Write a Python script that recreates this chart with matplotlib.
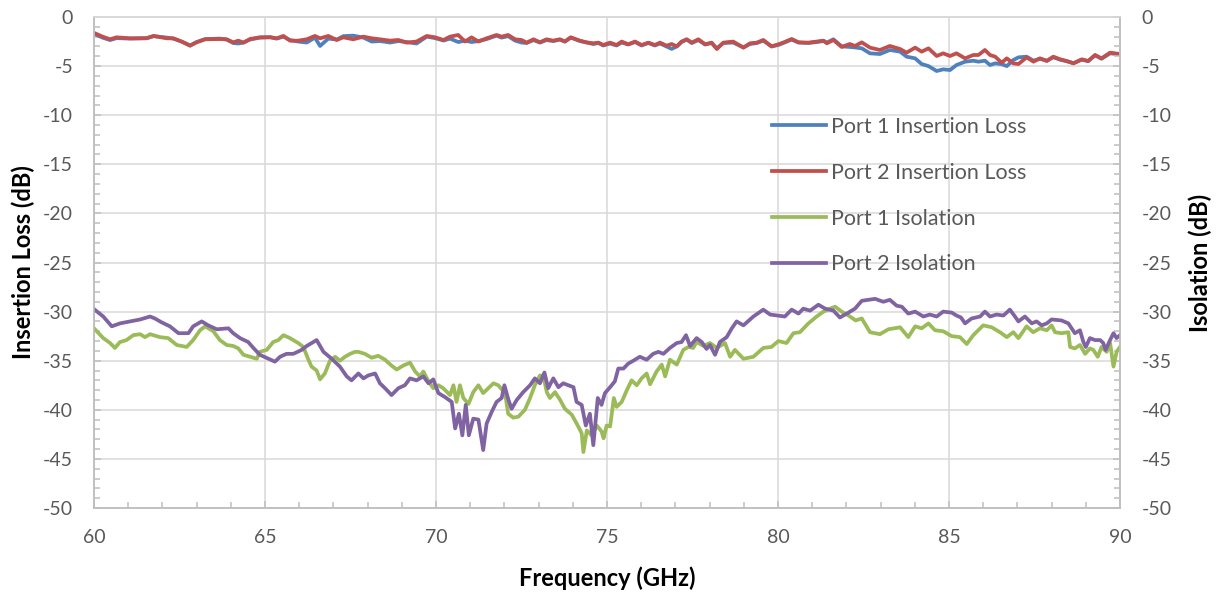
import matplotlib
matplotlib.use("Agg")
import matplotlib.pyplot as plt
from matplotlib.ticker import MultipleLocator

plt.rcParams['font.family'] = ['Lato', 'DejaVu Sans']
plt.rcParams['axes.unicode_minus'] = False

# ---------------- data ----------------
il_freq = [60.03,60.25,60.47,60.66,61.05,61.54,61.74,62.13,62.32,62.56,62.81,63.0,63.25,63.68,63.88,
           64.07,64.22,64.37,64.56,64.85,65.15,65.34,65.54,65.73,65.97,66.22,66.46,66.61,66.85,67.1,
           67.29,67.58,67.88,68.12,68.36,68.66,68.9,69.14,69.43,69.73,69.97,70.22,70.41,70.65,70.85,
           71.04,71.24,71.48,71.77,71.92,72.11,72.31,72.5,72.65,72.85,73.04,73.23,73.43,73.62,73.77,
           73.94,74.21,74.4,74.6,74.75,74.89,75.09,75.28,75.43,75.62,75.82,76.01,76.21,76.4,76.55,
           76.74,76.89,77.04,77.18,77.33,77.48,77.67,77.87,78.06,78.21,78.4,78.69,78.99,79.18,79.38,
           79.57,79.81,80.01,80.15,80.4,80.6,80.89,81.13,81.33,81.43,81.62,81.86,82.1,82.25,82.45,
           82.69,82.98,83.27,83.57,83.76,84.01,84.2,84.4,84.64,84.83,85.03,85.22,85.47,85.71,85.86,
           86.05,86.2,86.35,86.54,86.69,86.88,87.03,87.27,87.47,87.66,87.86,88.05,88.25,88.44,88.64,
           88.88,89.07,89.27,89.46,89.71,90.0]

port1_il = [-1.75,-2.1,-2.35,-2.15,-2.2,-2.15,-1.95,-2.1,-2.2,-2.5,-2.9,-2.55,-2.25,-2.2,-2.3,
            -2.65,-2.7,-2.6,-2.3,-2.1,-2.05,-2.2,-2.0,-2.35,-2.5,-2.6,-2.1,-2.95,-2.2,-2.3,
            -1.95,-1.9,-2.1,-2.5,-2.45,-2.6,-2.45,-2.55,-2.7,-2.0,-2.15,-2.4,-2.2,-2.55,-2.4,
            -2.55,-2.45,-2.25,-1.9,-2.1,-1.95,-2.4,-2.6,-2.65,-2.35,-2.6,-2.35,-2.45,-2.3,-2.5,
            -2.1,-2.45,-2.6,-2.75,-2.65,-2.9,-2.7,-2.9,-2.6,-2.8,-2.55,-2.9,-2.65,-2.9,-2.7,
            -3.0,-3.25,-3.0,-2.55,-2.3,-2.65,-2.35,-2.8,-2.65,-3.2,-2.65,-2.6,-3.1,-2.75,-2.65,
            -2.4,-3.0,-2.85,-2.65,-2.3,-2.6,-2.65,-2.55,-2.45,-2.6,-2.27,-2.99,-3.05,-3.1,-3.19,
            -3.7,-3.77,-3.36,-3.53,-4.04,-4.21,-4.79,-5.0,-5.5,-5.33,-5.4,-4.89,-4.55,-4.45,-4.55,
            -4.45,-4.89,-4.72,-4.8,-5.0,-4.38,-4.11,-4.04,-4.45,-4.25,-4.45,-4.1,-4.35,-4.5,-4.7,
            -4.35,-4.5,-3.9,-4.25,-3.7,-3.8]

port2_il = [-1.66,-2.0,-2.27,-2.07,-2.17,-2.17,-1.93,-2.17,-2.17,-2.5,-2.92,-2.58,-2.27,-2.24,-2.27,
            -2.58,-2.41,-2.61,-2.24,-2.07,-2.07,-2.17,-1.93,-2.41,-2.41,-2.27,-1.93,-2.17,-1.93,-2.34,
            -2.07,-2.27,-2.0,-2.17,-2.27,-2.41,-2.34,-2.61,-2.5,-1.93,-2.07,-2.34,-2.0,-1.83,-2.5,
            -2.07,-2.5,-2.17,-1.83,-2.0,-1.83,-2.27,-2.34,-2.61,-2.27,-2.58,-2.27,-2.41,-2.27,-2.5,
            -2.07,-2.41,-2.58,-2.68,-2.61,-2.85,-2.61,-2.85,-2.5,-2.78,-2.5,-2.85,-2.61,-2.85,-2.61,
            -2.92,-2.75,-2.99,-2.5,-2.27,-2.61,-2.27,-2.78,-2.61,-3.26,-2.61,-2.5,-3.12,-2.68,-2.61,
            -2.34,-2.99,-2.78,-2.61,-2.24,-2.58,-2.61,-2.5,-2.41,-2.68,-2.34,-3.05,-2.75,-2.95,-2.58,
            -3.12,-3.36,-2.95,-3.26,-3.63,-3.12,-3.53,-3.19,-3.97,-3.7,-3.97,-3.7,-4.21,-3.87,-3.87,
            -3.36,-3.87,-4.04,-4.65,-4.21,-4.72,-4.79,-4.11,-4.55,-4.21,-4.48,-4.04,-4.31,-4.48,-4.72,
            -4.31,-4.48,-3.87,-4.21,-3.63,-3.77]

p1_iso_freq = [60.0,60.27,60.47,60.61,60.76,60.95,61.15,61.35,61.49,61.64,61.93,62.17,62.42,62.71,62.9,
               63.1,63.25,63.49,63.68,63.88,64.07,64.22,64.37,64.66,64.76,64.85,65.05,65.24,65.39,65.54,
               65.73,65.97,66.12,66.27,66.36,66.51,66.61,66.75,66.9,67.05,67.19,67.34,67.49,67.63,67.73,
               67.92,68.12,68.31,68.51,68.7,68.85,69.04,69.24,69.39,69.53,69.63,69.78,69.92,70.07,70.21,
               70.41,70.51,70.6,70.7,70.8,70.95,71.09,71.24,71.38,71.53,71.68,71.82,72.02,72.11,72.26,
               72.41,72.6,72.75,72.89,73.04,73.14,73.24,73.33,73.48,73.63,73.77,73.97,74.16,74.26,74.31,
               74.41,74.55,74.7,74.84,74.9,74.99,75.09,75.2,75.28,75.43,75.58,75.72,75.87,76.01,76.16,
               76.26,76.45,76.6,76.7,76.84,77.04,77.23,77.38,77.52,77.62,77.82,78.01,78.21,78.45,78.6,
               78.74,78.99,79.28,79.57,79.81,80.01,80.25,80.45,80.64,80.89,81.13,81.33,81.52,81.67,81.86,
               82.06,82.27,82.45,82.69,82.98,83.23,83.57,83.81,84.01,84.2,84.4,84.59,84.83,85.08,85.32,
               85.52,85.71,86.0,86.25,86.49,86.69,86.88,87.03,87.27,87.46,87.66,87.86,88.0,88.1,88.29,
               88.49,88.54,88.68,88.83,88.98,89.12,89.22,89.35,89.46,89.61,89.71,89.81,89.9,90.0]

port1_iso = [-31.7,-32.7,-33.2,-33.7,-33.1,-32.9,-32.4,-32.3,-32.6,-32.3,-32.6,-32.7,-33.4,-33.6,-32.9,
             -31.9,-31.5,-32.0,-32.9,-33.4,-33.5,-33.75,-34.4,-34.7,-34.8,-34.1,-33.9,-33.1,-32.9,-32.4,
             -32.7,-33.2,-33.6,-34.9,-35.6,-36.0,-36.9,-36.3,-35.0,-34.6,-35.0,-34.6,-34.3,-34.1,-34.1,
             -34.3,-34.7,-34.5,-34.9,-35.5,-35.9,-35.5,-35.2,-36.1,-36.6,-36.1,-37.1,-37.8,-37.5,-37.8,
             -38.5,-37.5,-39.2,-37.5,-38.8,-39.4,-38.2,-37.5,-38.3,-37.8,-37.3,-37.5,-38.3,-40.4,-40.8,
             -40.7,-40.0,-38.8,-37.5,-36.5,-36.6,-38.2,-38.8,-38.2,-39.0,-39.9,-40.5,-41.7,-42.4,-44.3,
             -42.1,-42.6,-41.6,-42.2,-42.9,-41.6,-41.7,-38.8,-39.7,-39.2,-38.0,-37.0,-37.5,-36.8,-36.3,
             -37.4,-36.1,-35.4,-36.6,-34.9,-35.4,-33.9,-33.6,-33.7,-33.1,-33.5,-33.2,-33.7,-33.2,-34.6,
             -33.9,-34.8,-34.6,-33.7,-33.6,-33.0,-33.2,-32.2,-32.1,-31.2,-30.5,-30.0,-29.7,-29.5,-30.0,
             -30.4,-30.9,-30.7,-32.1,-32.3,-31.8,-31.6,-32.6,-31.5,-31.7,-31.2,-31.9,-32.0,-32.5,-32.6,
             -33.3,-32.4,-31.4,-31.6,-32.1,-32.6,-32.1,-32.7,-31.5,-32.1,-31.7,-31.9,-31.4,-32.1,-32.2,
             -32.1,-33.6,-33.75,-33.4,-34.3,-33.75,-33.9,-34.6,-33.6,-34.1,-33.2,-35.6,-34.1,-33.6]

p2_iso_freq = [60.0,60.27,60.52,60.76,61.05,61.35,61.64,61.78,61.98,62.22,62.47,62.76,62.9,63.15,63.34,
               63.59,63.93,64.07,64.27,64.51,64.66,64.85,65.1,65.29,65.44,65.63,65.83,66.07,66.22,66.51,
               66.71,66.95,67.19,67.39,67.53,67.73,67.88,68.02,68.22,68.36,68.51,68.7,68.9,69.09,69.24,
               69.43,69.63,69.78,69.92,70.07,70.26,70.46,70.56,70.67,70.77,70.87,70.96,71.09,71.24,71.38,
               71.48,71.63,71.77,71.92,72.0,72.12,72.21,72.36,72.55,72.75,72.89,73.04,73.17,73.28,73.43,
               73.58,73.72,73.87,74.02,74.11,74.26,74.38,74.5,74.6,74.73,74.84,74.94,75.09,75.23,75.33,
               75.48,75.62,75.77,75.96,76.16,76.35,76.5,76.65,76.84,77.04,77.18,77.31,77.43,77.62,77.77,
               77.91,78.01,78.16,78.3,78.5,78.65,78.79,78.99,79.28,79.57,79.77,80.2,80.4,80.6,80.74,
               80.94,81.18,81.38,81.62,81.81,82.06,82.25,82.45,82.84,83.08,83.27,83.47,83.62,83.81,84.01,
               84.25,84.44,84.64,84.83,85.08,85.22,85.35,85.47,85.66,85.91,86.05,86.2,86.39,86.59,86.78,
               86.93,87.03,87.22,87.42,87.56,87.71,87.86,88.0,88.29,88.49,88.68,88.83,88.93,89.0,89.12,
               89.27,89.42,89.51,89.58,89.71,89.81,89.9,90.0]

port2_iso = [-29.75,-30.5,-31.5,-31.2,-31.0,-30.8,-30.5,-30.7,-31.1,-31.5,-32.2,-32.2,-31.5,-31.0,-31.4,
             -31.8,-31.7,-32.2,-32.7,-33.1,-33.7,-34.4,-34.8,-35.1,-34.6,-34.3,-34.3,-33.9,-33.5,-32.9,
             -34.1,-34.8,-35.6,-36.6,-37.0,-36.3,-36.8,-36.5,-36.3,-37.3,-37.8,-38.5,-37.8,-37.5,-36.8,
             -37.0,-36.6,-37.3,-36.9,-38.3,-38.7,-39.2,-41.9,-40.4,-42.6,-39.5,-42.6,-40.9,-41.0,-44.1,
             -41.4,-40.2,-39.2,-38.8,-37.5,-39.0,-39.9,-39.0,-38.2,-37.5,-36.8,-37.3,-36.2,-37.8,-36.8,
             -37.7,-37.3,-37.5,-37.7,-39.2,-39.5,-41.6,-40.4,-43.6,-38.8,-39.5,-38.3,-37.7,-37.1,-35.8,
             -35.8,-35.3,-35.0,-34.6,-34.9,-34.3,-34.1,-34.3,-33.7,-33.2,-33.1,-32.4,-33.5,-32.7,-33.1,
             -33.8,-33.4,-34.4,-33.1,-32.6,-31.7,-31.0,-31.4,-30.5,-29.8,-30.3,-30.5,-29.8,-30.2,-29.7,
             -29.9,-29.3,-29.7,-29.9,-30.6,-30.1,-29.7,-28.9,-28.7,-29.0,-28.8,-29.4,-29.5,-30.2,-30.0,
             -30.5,-30.3,-30.5,-30.0,-30.1,-30.4,-30.6,-31.2,-30.7,-30.5,-30.0,-30.5,-30.3,-30.4,-29.8,
             -30.5,-31.0,-30.5,-31.2,-31.0,-31.4,-31.2,-30.8,-30.9,-31.2,-32.2,-31.9,-33.1,-33.6,-32.7,
             -32.9,-32.9,-33.2,-33.9,-32.9,-32.2,-32.7,-32.4]

labels = ['Port 1 Insertion Loss', 'Port 2 Insertion Loss', 'Port 1 Isolation', 'Port 2 Isolation']
colors = ['#4F81BD', '#C0504D', '#9BBB59', '#8064A2']
x_ticks = [60, 65, 70, 75, 80, 85, 90]
y_ticks = [0, -5, -10, -15, -20, -25, -30, -35, -40, -45, -50]

# ---------------- figure ----------------
fig = plt.figure(figsize=(12.17, 5.92), dpi=100)
ax = fig.add_axes([94/1217, 1-508/592, (1120-94)/1217, (508-17)/592])
ax2 = ax.twinx()

grid_c = '#D9D9D9'
spine_c = '#BFBFBF'
tick_c = '#595959'
lw = 2.7

l1, = ax.plot(il_freq, port1_il, color=colors[0], lw=lw, label=labels[0])
l2, = ax.plot(il_freq, port2_il, color=colors[1], lw=lw, label=labels[1])
l3, = ax2.plot(p1_iso_freq, port1_iso, color=colors[2], lw=lw, label=labels[2])
l4, = ax2.plot(p2_iso_freq, port2_iso, color=colors[3], lw=lw, label=labels[3])

for a in (ax, ax2):
    a.set_xlim(60, 90)
    a.set_ylim(-50, 0)
    a.set_yticks(y_ticks)
    a.yaxis.set_minor_locator(MultipleLocator(1))
    for s in a.spines.values():
        s.set_color(spine_c)
        s.set_linewidth(1.1)
    a.spines['top'].set_color(grid_c)

ax.set_xticks(x_ticks)
ax.xaxis.set_minor_locator(MultipleLocator(1))
ax.grid(True, which='major', color=grid_c, lw=1.1)
ax.set_axisbelow(True)

fs_tick = 14
ax.tick_params(axis='both', which='major', direction='in', length=5, width=1.1,
               color=spine_c, labelsize=fs_tick, labelcolor=tick_c)
ax.tick_params(axis='both', which='minor', direction='in', length=4, width=1.1, color=spine_c)
ax.tick_params(axis='y', which='major', pad=15)
ax.tick_params(axis='x', which='major', pad=15)
ax2.tick_params(axis='y', which='major', direction='in', length=5, width=1.1,
                color=spine_c, labelsize=fs_tick, labelcolor=tick_c, pad=15.5)
ax2.tick_params(axis='y', which='minor', direction='in', length=4, width=1.1, color=spine_c)

fs_lab = 17
ax.set_xlabel('Frequency (GHz)', fontsize=fs_lab, fontweight='bold', labelpad=15)
ax.set_ylabel('Insertion Loss (dB)', fontsize=fs_lab, fontweight='bold', labelpad=6)
ax2.set_ylabel('Isolation (dB)', fontsize=fs_lab, fontweight='bold', labelpad=12)

leg = ax2.legend(handles=[l1, l2, l3, l4], loc='upper left',
                 bbox_to_anchor=((772-94)/1026, (508-117)/491),
                 frameon=False, fontsize=15.5, handlelength=2.5, handletextpad=0.25,
                 labelspacing=1.2, borderpad=0, borderaxespad=0)
for t in leg.get_texts():
    t.set_color(tick_c)

fig.savefig('out.png', dpi=100)
